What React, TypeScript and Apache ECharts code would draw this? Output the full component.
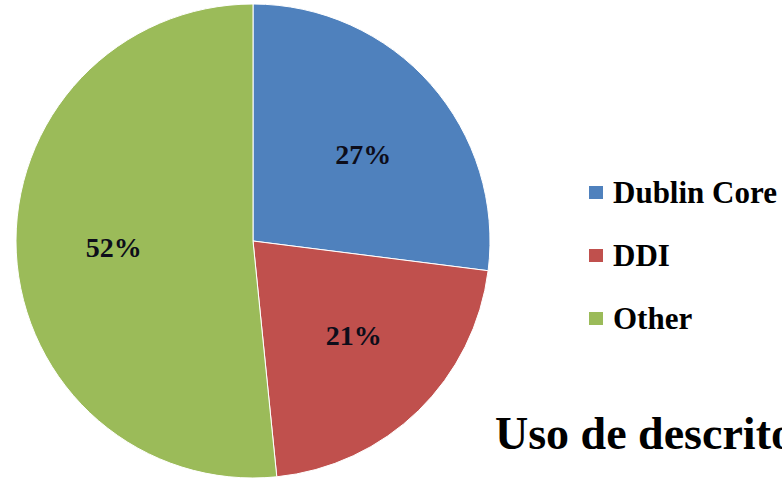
import React, { useEffect, useRef } from "react";
import * as echarts from "echarts";

const categories = ["Dublin Core", "DDI", "Other"];
const values = [27, 21.4, 51.6];
const colors = ["#4F81BD", "#C0504D", "#9BBB59"];
const labelOffsets = [[19, -6], [16, 8], [-18, 0]];
const titleText = "Uso de descritores";

export default function App() {
  const ref = useRef<HTMLDivElement>(null);
  useEffect(() => {
    const chart = echarts.init(ref.current!, null, { renderer: "svg" });
    const font = "'Liberation Serif', 'DejaVu Serif', serif";
    chart.setOption({
      animation: false,
      backgroundColor: "#ffffff",
      title: {
        text: titleText,
        left: 495,
        top: 410,
        padding: 0,
        textStyle: { fontFamily: font, fontWeight: "bold", fontSize: 46, color: "#000" },
      },
      legend: {
        orient: "vertical",
        left: 582,
        top: 172,
        itemWidth: 16,
        itemHeight: 15,
        itemGap: 32,
        icon: "rect",
        data: categories,
        textStyle: { fontFamily: font, fontWeight: "bold", fontSize: 31, color: "#000", padding: [0, 0, 0, 4] },
      },
      series: [
        {
          type: "pie",
          center: [253, 241],
          radius: 237,
          startAngle: 90,
          clockwise: true,
          percentPrecision: 0,
          avoidLabelOverlap: false,
          itemStyle: { borderColor: "#ffffff", borderWidth: 1 },
          label: {
            show: true,
            position: "inside",
            formatter: "{d}%",
            fontFamily: font,
            fontWeight: "bold",
            fontSize: 28,
            color: "#0d0d1a",
          },
          labelLine: { show: false },
          data: categories.map((name, i) => ({
            name,
            value: values[i],
            itemStyle: { color: colors[i] },
            label: { offset: labelOffsets[i] },
          })),
        },
      ],
    });
    return () => chart.dispose();
  }, []);
  return (
    <div
      ref={ref}
      style={{ position: "fixed", left: 0, top: 0, width: 782, height: 481, overflow: "hidden", background: "#fff" }}
    />
  );
}
